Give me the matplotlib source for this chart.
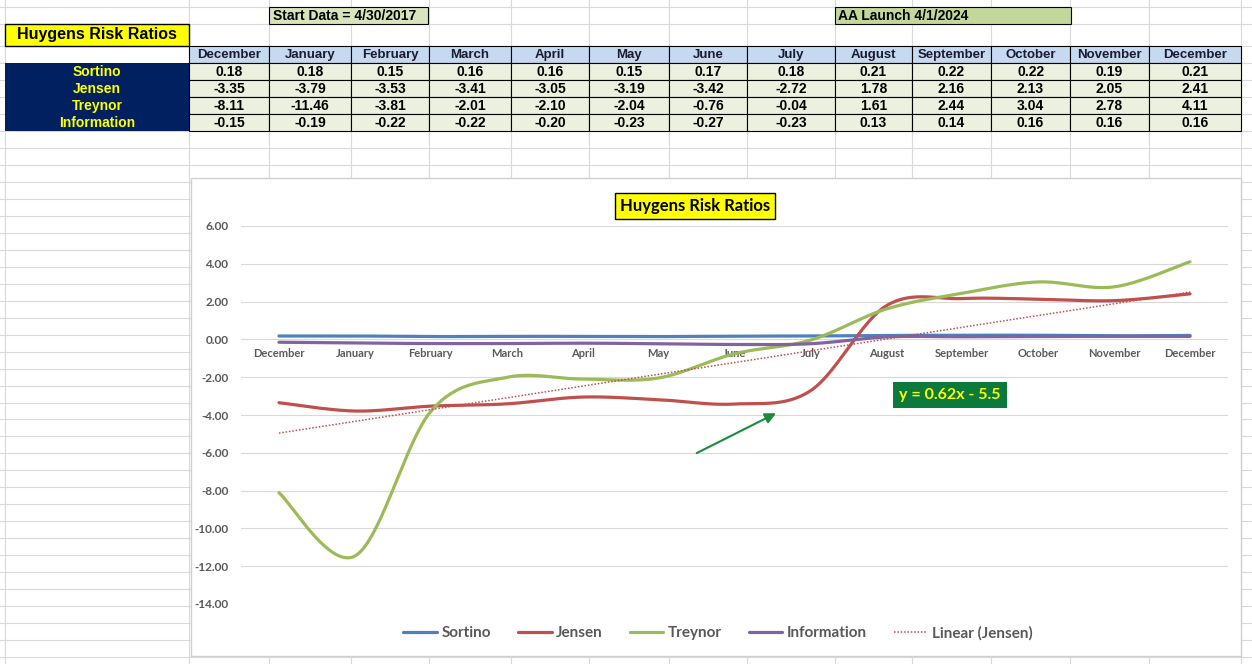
import numpy as np
import matplotlib
matplotlib.use("Agg")
import matplotlib.pyplot as plt
from matplotlib.patches import Rectangle

# data
months = ["December", "January", "February", "March", "April", "May", "June",
          "July", "August", "September", "October", "November", "December"]
row_names = ["Sortino", "Jensen", "Treynor", "Information"]
sortino = [0.18, 0.18, 0.15, 0.16, 0.16, 0.15, 0.17, 0.18, 0.21, 0.22, 0.22, 0.19, 0.21]
jensen = [-3.35, -3.79, -3.53, -3.41, -3.05, -3.19, -3.42, -2.72, 1.78, 2.16, 2.13, 2.05, 2.41]
treynor = [-8.11, -11.46, -3.81, -2.01, -2.10, -2.04, -0.76, -0.04, 1.61, 2.44, 3.04, 2.78, 4.11]
information = [-0.15, -0.19, -0.22, -0.22, -0.20, -0.23, -0.27, -0.23, 0.13, 0.14, 0.16, 0.16, 0.16]
series = [sortino, jensen, treynor, information]
colors = ["#4F81BD", "#C0504D", "#9BBB59", "#8064A2"]

# sheet layout (pixels)
W, H = 1252, 664
col_edges = [189, 269, 351, 429, 511, 589, 669, 747, 835, 912, 991, 1070, 1149, 1241]
row_lines = [7, 24, 46, 63, 80, 97, 114] + list(131 + 16.97 * np.arange(32))
NARROW = ["Liberation Sans Narrow", "Liberation Sans", "DejaVu Sans"]
CHART = ["Lato", "DejaVu Sans"]
GRAY = "#595959"


def excel_smooth(y, n=40):
    """Excel-like smoothed line: cubic bezier through points."""
    y = np.asarray(y, float)
    x = np.arange(1, len(y) + 1, dtype=float)
    pts = np.column_stack([x, y])
    ext = np.vstack([pts[0], pts, pts[-1]])
    t = np.linspace(0, 1, n)[:, None]
    out = []
    for i in range(len(y) - 1):
        p0, p1, p2, p3 = ext[i], ext[i + 1], ext[i + 2], ext[i + 3]
        c1 = p1 + (p2 - p0) / 6
        c2 = p2 - (p3 - p1) / 6
        seg = ((1 - t) ** 3) * p1 + 3 * ((1 - t) ** 2) * t * c1 + 3 * (1 - t) * t ** 2 * c2 + t ** 3 * p2
        out.append(seg if i == 0 else seg[1:])
    out = np.vstack(out)
    return out[:, 0], out[:, 1]


fig = plt.figure(figsize=(W / 100, H / 100), dpi=100)

# background sheet
bg = fig.add_axes([0, 0, 1, 1])
bg.set_xlim(0, W)
bg.set_ylim(H, 0)
bg.axis("off")

for xv in [5] + col_edges:
    bg.plot([xv, xv], [0, H], color="#D9D9D9", lw=0.8, zorder=1)
for yv in row_lines:
    bg.plot([0, W], [yv, yv], color="#D9D9D9", lw=0.8, zorder=1)

# top boxes
bg.add_patch(Rectangle((269, 7), 159, 17, fc="#D8E4BC", ec="black", lw=0.8, zorder=2))
bg.text(273, 15.5, "Start Data = 4/30/2017", family=NARROW, fontsize=10, fontweight="bold",
        va="center", ha="left", zorder=3)
bg.add_patch(Rectangle((835, 7), 236, 17, fc="#C4D79B", ec="black", lw=0.8, zorder=2))
bg.text(838, 15.5, "AA Launch 4/1/2024", family=NARROW, fontsize=10, fontweight="bold",
        va="center", ha="left", zorder=3)
bg.add_patch(Rectangle((5, 24), 184, 22, fc="#FFFF00", ec="black", lw=1, zorder=2))
bg.text(97, 35, "Huygens Risk Ratios", family=["Liberation Sans", "DejaVu Sans"], fontsize=11.5,
        fontweight="bold", va="center", ha="center", zorder=3)

# table
bg.add_patch(Rectangle((5, 63), 184, 68, fc="#002060", ec="none", zorder=2))
for r, name in enumerate(row_names):
    bg.text(97, 63 + 17 * r + 9, name, family=NARROW, fontsize=10, fontweight="bold",
            color="#FFFF00", va="center", ha="center", zorder=3)
for c, m in enumerate(months):
    x0, x1 = col_edges[c], col_edges[c + 1]
    bg.add_patch(Rectangle((x0, 46), x1 - x0, 17, fc="#C5D9F1", ec="black", lw=0.8, zorder=2))
    bg.text((x0 + x1) / 2, 55, m, family=NARROW, fontsize=9.5, fontweight="bold",
            color="#1B1B2F", va="center", ha="center", zorder=3)
    for r, s in enumerate(series):
        bg.add_patch(Rectangle((x0, 63 + 17 * r), x1 - x0, 17, fc="#EBF1DE", ec="black",
                               lw=0.8, zorder=2))
        bg.text((x0 + x1) / 2, 63 + 17 * r + 9, f"{s[c]:.2f}", family=NARROW, fontsize=10,
                fontweight="bold", color="black", va="center", ha="center", zorder=3)

# chart area
bg.add_patch(Rectangle((190.5, 178), 1050.5, 478, fc="white", ec="#D0D0D0", lw=1, zorder=4))

ax = fig.add_axes([241 / W, 1 - 604 / H, (1228 - 241) / W, (604 - 226) / H])
ax.set_zorder(5)
ax.patch.set_alpha(0)
ax.set_xlim(0.5, 13.5)
ax.set_ylim(-14, 6)
ax.set_yticks(np.arange(-14, 7, 2))
ax.set_yticklabels([f"{v:.2f}" for v in np.arange(-14, 7, 2)])
ax.set_xticks(np.arange(1, 14))
ax.set_xticklabels(months)
ax.spines["bottom"].set_position(("data", 0))
for sp in ax.spines.values():
    sp.set_visible(False)
ax.yaxis.grid(True, color="#D9D9D9", lw=0.8)
ax.set_axisbelow(True)
ax.tick_params(axis="x", length=0, pad=6, labelsize=8, labelcolor=GRAY)
ax.tick_params(axis="y", length=0, pad=9, labelsize=8.5, labelcolor=GRAY)
for lab in ax.get_xticklabels() + ax.get_yticklabels():
    lab.set_family(CHART)
    lab.set_fontweight("bold")

x = np.arange(1, 14)
for s, name, col in zip(series, row_names, colors):
    sx, sy = excel_smooth(s)
    ax.plot(sx, sy, color=col, lw=2.3, label=name, solid_capstyle="round")

fit = np.polyfit(x, jensen, 1)
ax.plot(x, np.polyval(fit, x), color="#C0504D", lw=1.1, ls=(0, (1, 1.2)), label="Linear (Jensen)")

ax.text(9.84, -2.96, "y = 0.62x - 5.5", family=CHART, fontsize=11.5, fontweight="bold",
        color="#FFFF00", ha="center", va="center",
        bbox=dict(boxstyle="square,pad=0.38", fc="#0B7A3A", ec="none"))
ax.annotate("", xy=(7.58, -3.84), xytext=(6.47, -6.08),
            arrowprops=dict(arrowstyle="-|>", color="#1E8A3C", lw=1.5, mutation_scale=16))

fig.text(695 / W, 1 - 205.5 / H, "Huygens Risk Ratios", family=CHART, fontsize=12,
         fontweight="bold", ha="center", va="center", zorder=6,
         bbox=dict(boxstyle="square,pad=0.3", fc="#FFFF00", ec="black", lw=1))

leg = fig.legend(*ax.get_legend_handles_labels(), loc="center", ncol=5, frameon=False,
                 bbox_to_anchor=(718 / W, 1 - 633 / H),
                 handlelength=2.2, handletextpad=0.3, columnspacing=1.75,
                 prop=dict(family=CHART, weight="bold", size=11))
for t in leg.get_texts():
    t.set_color(GRAY)
leg.set_zorder(6)

fig.savefig("out.png", dpi=100)
